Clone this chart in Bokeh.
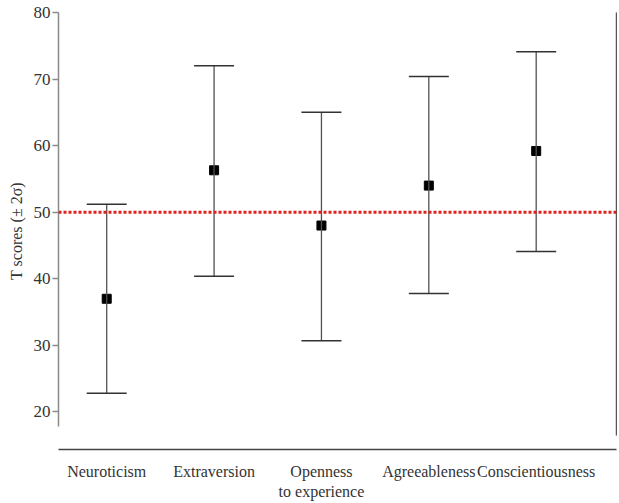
from bokeh.plotting import figure
from bokeh.models import (ColumnDataSource, Range1d, LinearAxis, FixedTicker, Whisker,
                          TeeHead, Span)
from bokeh.embed import file_html
from bokeh.resources import INLINE

# ---- data ----
traits = ["Neuroticism", "Extraversion", "Openness\nto experience", "Agreeableness", "Conscientiousness"]
means = [37.0, 56.3, 48.0, 54.0, 59.2]
upper = [51.2, 72.0, 65.0, 70.4, 74.1]
lower = [22.8, 40.4, 30.7, 37.8, 44.1]
y_ticks = [20, 30, 40, 50, 60, 70, 80]
norm_value = 50

xs = list(range(1, len(traits) + 1))
src = ColumnDataSource(dict(x=xs, mean=means, upper=upper, lower=lower))

FONT = "'Liberation Serif', 'Times New Roman', serif"
AXIS_GREY = "#8a8a8a"
BAR_GREY = "#4d5256"

p = figure(width=617, height=502, output_backend="svg", toolbar_location=None,
           x_range=Range1d(0.551, 5.748), y_range=Range1d(14.36, 80.0),
           min_border_left=58, min_border_right=1, min_border_top=12, min_border_bottom=48)
p.outline_line_color = None
p.xgrid.visible = False
p.ygrid.visible = False

# y axis (left)
ya = p.yaxis[0]
ya.ticker = FixedTicker(ticks=y_ticks)
ya.bounds = (17.8, 80)
ya.axis_line_color = AXIS_GREY
ya.axis_line_width = 1.5
ya.major_tick_line_color = AXIS_GREY
ya.major_tick_line_width = 1.5
ya.major_tick_out = 6
ya.major_tick_in = 0
ya.minor_tick_line_color = None
ya.major_label_text_font = FONT
ya.major_label_text_font_size = "17px"
ya.major_label_text_color = "#333333"
ya.major_label_standoff = 2
ya.axis_label = "T scores (\u00b1 2\u03c3)"
ya.axis_label_text_font = FONT
ya.axis_label_text_font_size = "16px"
ya.axis_label_text_font_style = "normal"
ya.axis_label_text_color = "#333333"
ya.axis_label_standoff = 6

# x axis (bottom)
xa = p.xaxis[0]
xa.ticker = FixedTicker(ticks=xs)
xa.major_label_overrides = {x: t for x, t in zip(xs, traits)}
xa.axis_line_color = "#444444"
xa.axis_line_width = 1.5
xa.major_tick_line_color = None
xa.minor_tick_line_color = None
xa.major_label_text_font = FONT
xa.major_label_text_font_size = "16px"
xa.major_label_text_color = "#333333"
xa.major_label_standoff = 7

# right border line
ra = LinearAxis(ticker=FixedTicker(ticks=[]), bounds=(16.4, 80),
                axis_line_color="#555555", axis_line_width=1.5,
                major_tick_line_color=None, minor_tick_line_color=None,
                major_label_text_font_size="0px")
p.add_layout(ra, "right")

# error bars
wh = Whisker(source=src, base="x", upper="upper", lower="lower", dimension="height",
             line_color=BAR_GREY, line_width=1.3,
             upper_head=TeeHead(size=40, line_color="#333333", line_width=1.5),
             lower_head=TeeHead(size=40, line_color="#333333", line_width=1.5))
wh.level = "glyph"
p.add_layout(wh)

# means
p.scatter("x", "mean", source=src, marker="square", size=9, color="black")

# norm line
p.add_layout(Span(location=norm_value, dimension="width", line_color="#e0201c",
                  line_width=3, line_dash="3 2"))

open("out.html", "w").write(file_html(p, INLINE))
